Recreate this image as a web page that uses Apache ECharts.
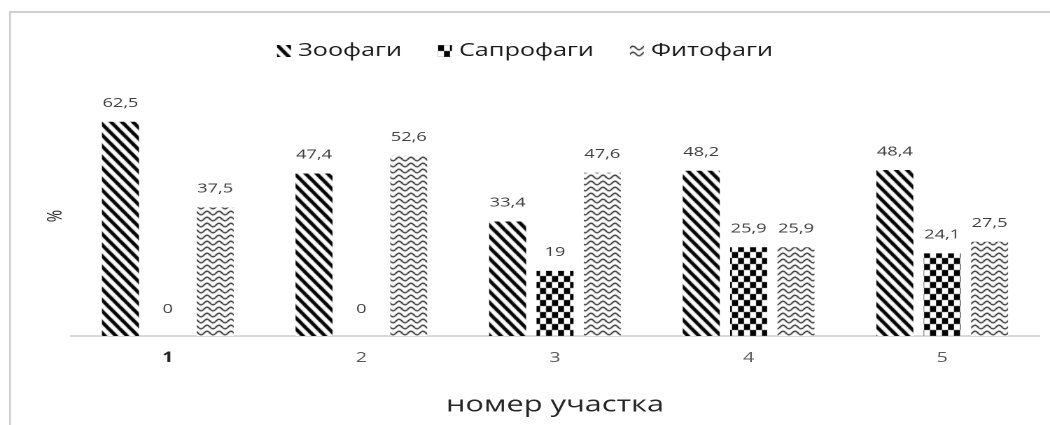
<!DOCTYPE html>
<html>
<head>
<meta charset="utf-8">
<script src="https://cdn.jsdelivr.net/npm/echarts@6/dist/echarts.min.js"></script>
<style>
  html, body { margin: 0; padding: 0; background: #fff; overflow: hidden; }
  /* the chart is laid out narrower and widened as a whole, which gives the
     broad lettering; horizontal sizes below are divided by SX to compensate */
  #chart { width: 750px; height: 425px; transform: scaleX(1.4); transform-origin: 0 0; }
</style>
</head>
<body>
<div id="chart"></div>
<script>
// Plot numbers (sites 1–5), share of each trophic group, %
const sites = ['1', '2', '3', '4', '5'];
const zoophages = [62.5, 47.4, 33.4, 48.2, 48.4];
const saprophages = [0, 0, 19, 25.9, 24.1];
const phytophages = [37.5, 52.6, 47.6, 25.9, 27.5];
const seriesNames = ['Зоофаги', 'Сапрофаги', 'Фитофаги'];

const SX = 1.4;                 // horizontal widening of the whole chart
const px = v => v / SX;         // screen width -> layout width
const FONT = '"Open Sans", "Noto Sans", sans-serif';

// Hatch tiles drawn on small canvases and used as repeating fills
function tile(w, h, draw) {
  const c = document.createElement('canvas');
  c.width = w; c.height = h;
  const ctx = c.getContext('2d');
  ctx.fillStyle = '#fff';
  ctx.fillRect(0, 0, w, h);
  draw(ctx, w, h);
  return c;
}

// wide downward diagonal stripes
const stripes = tile(11, 11, (ctx, w, h) => {
  ctx.strokeStyle = '#000';
  ctx.lineWidth = 3.6;
  for (let k = -1; k <= 1; k++) {
    ctx.beginPath();
    ctx.moveTo(k * w - 2, -2);
    ctx.lineTo(k * w + w + 2, h + 2);
    ctx.stroke();
  }
});

// large checkerboard
const checker = tile(12, 12, (ctx) => {
  ctx.fillStyle = '#000';
  ctx.fillRect(0, 0, 6, 6);
  ctx.fillRect(6, 6, 6, 6);
});

// wave lines
const waves = tile(12, 6, (ctx, w) => {
  ctx.strokeStyle = '#000';
  ctx.lineWidth = 1.2;
  ctx.beginPath();
  for (let x = -1; x <= w + 1; x += 0.5) {
    const y = 3 - 1.8 * Math.sin((2 * Math.PI * x) / w);
    if (x === -1) ctx.moveTo(x, y); else ctx.lineTo(x, y);
  }
  ctx.stroke();
});

const fills = [stripes, checker, waves];
const values = [zoophages, saprophages, phytophages];

function fmt(v) { return String(v).replace('.', ','); }

const chart = echarts.init(document.getElementById('chart'), null, {
  renderer: 'canvas', devicePixelRatio: 2
});

chart.setOption({
  backgroundColor: '#fff',
  animation: false,
  textStyle: { fontFamily: FONT },
  graphic: [
    { type: 'line', shape: { x1: px(10), y1: 12, x2: 800, y2: 12 },
      style: { stroke: '#d0d0d0', lineWidth: 2 }, silent: true, z: -1 },
    { type: 'line', shape: { x1: px(10), y1: 11, x2: px(10), y2: 430 },
      style: { stroke: '#d0d0d0', lineWidth: px(2) }, silent: true, z: -1 }
  ],
  legend: {
    top: 37,
    left: 'center',
    itemWidth: px(14),
    itemHeight: 12,
    itemGap: px(36),
    icon: 'rect',
    textStyle: { fontFamily: FONT, fontSize: 18, color: '#1a1a1a' },
    data: seriesNames
  },
  grid: { left: px(71), right: px(11), top: 96, bottom: 89, containLabel: false },
  xAxis: {
    type: 'category',
    data: sites,
    axisLine: { lineStyle: { color: '#d9d9d9', width: 2 } },
    axisTick: { show: false },
    axisLabel: {
      margin: 15,
      fontSize: 14,
      color: '#595959',
      fontFamily: FONT,
      formatter: (v, i) => (i === 0 ? '{b|' + v + '}' : v),
      rich: { b: { fontSize: 14, fontWeight: 'bold', color: '#262626', fontFamily: FONT } }
    },
    name: 'номер участка',
    nameLocation: 'middle',
    nameGap: 58,
    nameTextStyle: { fontSize: 22, color: '#262626', fontFamily: FONT }
  },
  yAxis: {
    type: 'value',
    min: 0,
    max: 70,
    axisLine: { show: false },
    axisTick: { show: false },
    axisLabel: { show: false },
    splitLine: { show: false },
    name: '%',
    nameLocation: 'middle',
    nameGap: px(5),
    nameRotate: 90,
    nameTextStyle: { fontSize: 15, color: '#262626', fontFamily: FONT }
  },
  series: seriesNames.map((name, s) => ({
    name,
    type: 'bar',
    barWidth: px(37),
    barGap: '28%',
    itemStyle: {
      color: { image: fills[s], repeat: 'repeat', scaleX: 1 / SX, scaleY: 1 }
    },
    label: {
      show: true,
      position: 'top',
      distance: 12,
      fontSize: 13,
      color: '#404040',
      fontFamily: FONT,
      formatter: p => fmt(p.value)
    },
    data: values[s].map(v => (v === 0
      ? { value: v, label: { distance: 20 } }
      : v))
  }))
});
</script>
</body>
</html>
